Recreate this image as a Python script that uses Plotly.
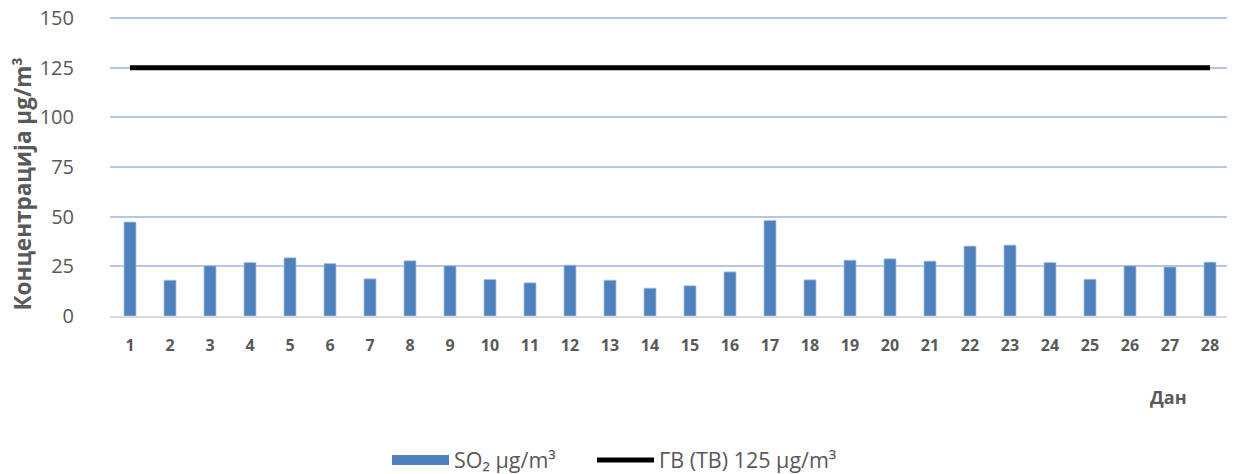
import plotly.graph_objects as go

days = list(range(1, 29))
so2 = [47.3, 18.0, 25.3, 26.9, 29.3, 26.4, 18.7, 27.8, 25.3, 18.4, 16.7, 25.6, 18.0, 14.0,
       15.2, 22.2, 48.1, 18.2, 28.1, 28.8, 27.6, 35.2, 35.7, 26.9, 18.5, 25.3, 24.7, 27.1]
limit = [125] * len(days)
y_ticks = [0, 25, 50, 75, 100, 125, 150]

FONT = "Open Sans"
GREY = "#595959"
BLUE = "#4f81bd"

fig = go.Figure()
fig.add_trace(go.Bar(x=days, y=so2, name="SO₂ µg/m³", showlegend=False,
                     marker=dict(color=BLUE, line=dict(color="#a9c0e0", width=0.8)), width=0.3))
# legend entry for the bar series (wide swatch like the original)
fig.add_trace(go.Scatter(x=[None], y=[None], mode="lines", name="SO₂ µg/m³",
                         line=dict(color=BLUE, width=14), legend="legend"))
fig.add_trace(go.Scatter(x=days, y=limit, mode="lines", name="ГВ (ТВ) 125 µg/m³",
                         line=dict(color="black", width=5), legend="legend2"))

legend_common = dict(orientation="h", xref="container", yref="container", xanchor="left",
                     y=0.03, yanchor="middle", font=dict(size=21.5, color=GREY), itemwidth=57)

fig.update_layout(
    width=1227, height=466,
    margin=dict(l=102, r=5, t=9, b=158, autoexpand=False),
    paper_bgcolor="white", plot_bgcolor="white",
    font=dict(family=FONT, color=GREY, size=17),
    showlegend=True,
    legend=dict(x=379 / 1227, **legend_common),
    legend2=dict(x=584 / 1227, **legend_common),
    xaxis=dict(range=[0.5, 28.5], tickmode="array", tickvals=days, ticktext=[str(d) for d in days],
               showgrid=False, zeroline=False, showline=True, linecolor="#d9d9d9", linewidth=2,
               tickfont=dict(size=16, color=GREY, family=FONT, weight="bold"),
               ticks="", ticklabelstandoff=14, automargin=False),
    yaxis=dict(range=[0, 150.6], tickmode="array", tickvals=y_ticks, showgrid=True,
               gridcolor="#b4c7e7", gridwidth=1.5, zeroline=False, showline=False,
               tickfont=dict(size=20, color=GREY), ticks="", ticklabelstandoff=35, automargin=False,
               ticklabeloverflow="allow"),
    annotations=[
        dict(text="<b>Концентрација µg/m³</b>", xref="paper", yref="paper", x=(23 - 110) / 1120,
             y=(316 - 185) / 298, textangle=-90, xanchor="center", yanchor="middle", showarrow=False,
             font=dict(size=22.5, color=GREY)),
        dict(text="<b>Дан</b>", xref="paper", yref="paper", x=(1168 - 110) / 1120, y=-0.27,
             xanchor="center", yanchor="middle", showarrow=False, font=dict(size=18, color=GREY)),
    ],
)

fig.write_html("out.html")
